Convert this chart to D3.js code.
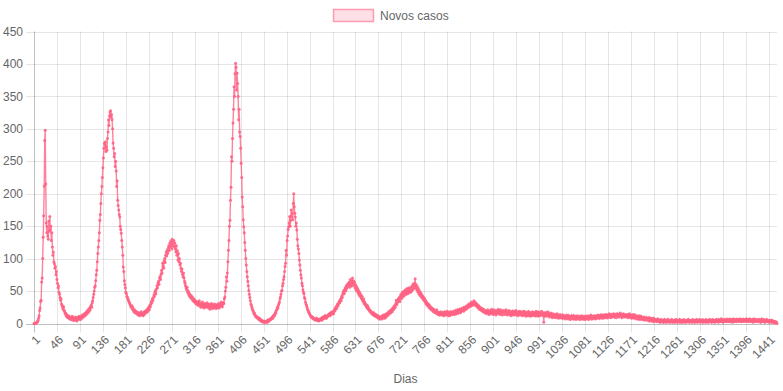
<!DOCTYPE html>
<html>
<head>
<meta charset="utf-8">
<script src="https://cdn.jsdelivr.net/npm/d3@7"></script>
<style>
  html, body { margin: 0; padding: 0; background: #fff; }
  svg { display: block; font-family: "Helvetica Neue", Helvetica, Arial, "Liberation Sans", sans-serif; }
</style>
</head>
<body>
<div id="chart"></div>
<script>
// novos casos por dia
const novosCasos = [
  0,0,0,0,1,1,2,3,5,8,12,20,24,34,36,64,70,100,133,166,212,282,298,
  215,155,140,150,135,130,158,142,165,145,150,128,140,118,105,110,95,
  92,85,88,75,80,68,62,55,58,48,45,40,36,38,30,28,25,22,26,20,
  18,15,16,12,14,10,11,9,12,8,10,7,9,6,8,11,7,5,9,6,
  8,5,10,7,4,9,6,8,11,7,10,6,9,12,8,11,14,10,13,15,
  12,16,14,18,15,20,17,22,19,24,21,26,28,25,32,35,40,45,50,56,
  58,66,75,82,95,108,118,128,140,159,168,185,200,211,225,240,255,270,278,275,
  280,265,272,267,285,295,314,305,320,326,328,318,322,314,300,278,270,257,262,242,
  250,235,211,220,190,182,175,168,164,150,145,139,128,118,105,87,80,66,60,55,
  48,46,42,40,38,36,34,32,30,28,26,25,27,22,24,20,18,21,17,19,
  16,18,15,14,17,13,16,12,15,14,18,13,16,15,12,17,14,19,16,18,
  20,17,22,19,24,25,21,28,26,30,34,32,38,36,40,44,42,48,51,46,
  53,58,55,62,65,60,70,72,68,76,82,78,93,88,85,96,100,94,105,110,
  104,113,108,116,120,112,124,118,127,122,115,130,120,126,128,118,124,115,110,120,
  105,112,98,108,95,100,90,93,85,80,84,76,72,78,70,65,62,58,55,52,
  56,48,50,45,47,42,44,40,43,38,41,36,39,34,37,33,35,31,34,30,
  33,28,32,29,35,27,31,25,30,28,33,26,29,24,31,27,30,25,28,32,
  26,29,24,30,27,22,28,25,31,26,23,29,27,24,30,26,28,23,29,27,
  25,30,28,24,31,27,29,33,28,26,30,32,31,38,41,50,56,72,65,78,
  95,113,128,150,159,190,210,257,250,285,309,330,365,350,385,401,395,360,386,370,
  350,314,330,295,288,270,247,225,195,180,160,149,140,125,113,100,90,80,72,65,
  58,51,45,40,35,30,28,25,22,20,18,15,16,13,12,10,11,10,8,9,
  7,6,8,5,6,4,5,3,4,2,3,4,2,3,2,3,4,2,5,3,
  4,6,5,7,6,8,9,10,8,12,11,14,13,17,16,20,22,25,24,28,
  31,33,38,41,45,50,51,58,62,68,72,80,88,93,113,105,128,135,145,149,
  155,165,150,159,175,165,170,160,185,200,180,170,164,150,155,144,130,120,115,108,
  98,90,82,75,70,62,58,52,48,46,40,38,33,30,28,25,22,20,18,16,
  15,13,12,10,11,10,8,9,7,8,6,7,5,6,8,5,7,6,4,6,
  5,7,6,8,5,9,7,10,8,11,9,12,10,8,10,12,11,14,13,15,
  12,16,14,17,15,18,16,15,19,22,20,24,26,23,28,30,27,31,34,32,
  36,38,35,42,40,45,48,51,46,52,55,50,58,54,60,57,62,59,64,56,
  68,60,65,58,70,62,66,59,64,55,60,52,57,50,54,47,51,44,48,42,
  45,40,38,42,36,34,38,31,33,29,30,27,25,28,23,25,21,22,19,20,
  17,18,15,16,14,17,13,15,12,14,11,13,10,12,9,11,8,10,7,9,
  8,11,7,10,13,9,12,8,14,11,10,15,12,16,13,18,15,17,20,16,
  19,22,18,24,21,26,23,28,25,31,36,29,35,33,38,36,40,34,42,45,
  38,44,48,41,46,50,43,48,52,45,49,54,46,51,47,55,49,53,48,56,
  50,58,52,61,54,58,62,69,55,60,52,57,49,54,46,51,44,48,42,46,
  40,43,38,41,36,39,34,36,31,33,29,31,27,30,25,28,23,26,22,24,
  21,23,19,22,18,20,17,19,16,21,15,18,14,17,16,13,15,18,14,16,
  13,17,15,12,16,18,14,17,13,15,19,14,16,12,17,15,13,18,16,14,
  17,15,19,16,14,18,20,17,15,19,21,18,16,20,22,19,17,21,23,20,
  22,24,19,25,21,23,26,22,27,24,28,25,30,26,29,31,27,33,28,30,
  32,28,35,30,33,29,31,27,30,25,28,24,27,22,25,21,24,20,23,19,
  22,18,21,17,20,16,19,15,18,21,16,19,14,17,20,15,18,22,16,19,
  14,18,21,16,19,13,17,20,15,18,22,16,19,14,17,21,15,18,13,17,
  20,16,19,14,18,21,15,17,13,19,16,20,14,18,15,12,17,19,14,16,
  19,13,17,15,20,14,18,16,12,17,15,19,13,16,18,14,17,12,15,19,
  13,16,18,14,11,17,15,12,16,19,13,15,11,17,14,16,12,18,15,13,
  17,14,12,16,19,13,15,11,18,14,16,12,15,17,13,19,14,16,12,2,
  15,13,17,11,16,14,12,18,13,15,10,14,12,16,11,13,9,15,12,10,
  14,11,13,9,12,15,10,13,8,12,11,14,9,12,10,8,13,11,9,12,
  10,7,11,9,13,8,10,12,7,11,9,6,10,12,8,11,9,7,12,10,
  8,11,6,9,12,8,10,7,11,9,6,10,8,12,9,7,11,8,10,6,
  9,11,7,10,8,12,9,6,10,11,8,13,9,7,11,10,8,12,9,11,
  7,10,12,8,11,9,13,10,8,12,11,9,14,10,12,8,11,13,9,12,
  10,14,11,9,13,12,10,15,11,13,9,12,14,10,13,11,15,12,10,14,
  12,9,13,15,11,14,10,13,12,16,11,14,9,13,12,15,10,14,11,13,
  12,10,14,11,13,9,12,15,10,13,11,8,12,10,14,9,11,13,8,10,
  12,9,7,11,10,8,12,6,9,11,7,10,8,6,9,7,10,5,8,7,
  9,6,8,5,7,9,4,6,8,5,7,4,6,8,3,5,7,4,6,5,
  3,5,7,4,6,3,5,2,4,6,3,5,4,2,5,3,6,4,2,5,
  3,4,6,2,5,3,4,2,5,3,6,4,2,4,3,5,2,4,6,3,
  4,2,5,3,4,6,2,4,3,5,2,4,3,6,2,5,3,4,2,5,
  3,4,6,3,5,2,4,3,5,4,2,6,3,4,5,2,4,3,6,4,
  2,5,3,4,6,3,2,5,4,3,6,2,4,5,3,4,2,6,3,5,
  4,2,5,3,6,4,3,5,2,4,6,3,5,4,2,5,3,6,4,3,
  5,2,6,4,3,5,7,3,4,6,2,5,4,3,6,4,5,3,7,4,
  5,3,6,4,7,3,5,4,6,2,5,7,4,3,6,5,3,7,4,5,
  6,3,5,7,4,6,3,5,4,7,3,6,5,4,6,3,7,5,4,6,
  3,5,7,4,6,3,5,4,6,2,5,7,4,3,6,4,5,3,6,4,
  5,3,6,4,2,5,7,4,3,5,6,4,2,5,3,4,6,3,5,4,
  2,4,5,3,4,2,5,3,2,4,3,1,2,3,1,2,0
];
const dias = novosCasos.map((v, i) => i + 1);
const yTicks = [0, 50, 100, 150, 200, 250, 300, 350, 400, 450];
const xTickStep = 45;
const serieNome = "Novos casos";
const eixoXTitulo = "Dias";

const width = 783, height = 391;
const margin = { left: 34, right: 777, top: 31.5, bottom: 323.5 };
const cor = "rgb(255, 99, 132)";
const textCor = "#666";

const svg = d3.select("#chart").append("svg")
  .attr("width", width)
  .attr("height", height);

svg.append("rect").attr("width", width).attr("height", height).attr("fill", "#fff");

const x = d3.scalePoint()
  .domain(dias)
  .range([margin.left, margin.right]);

const y = d3.scaleLinear()
  .domain([0, 450])
  .range([margin.bottom, margin.top]);

const xTickVals = dias.filter(d => (d - 1) % xTickStep === 0);

// grade horizontal
svg.append("g").selectAll("line")
  .data(yTicks)
  .enter().append("line")
  .attr("x1", margin.left - 8).attr("x2", margin.right)
  .attr("y1", d => Math.round(y(d)) + 0.5).attr("y2", d => Math.round(y(d)) + 0.5)
  .attr("stroke", d => d === 0 ? "rgba(0,0,0,0.25)" : "rgba(0,0,0,0.1)")
  .attr("stroke-width", 1);

// grade vertical
svg.append("g").selectAll("line")
  .data(xTickVals)
  .enter().append("line")
  .attr("x1", d => Math.round(x(d)) + 0.5).attr("x2", d => Math.round(x(d)) + 0.5)
  .attr("y1", margin.top).attr("y2", margin.bottom + 9)
  .attr("stroke", d => d === 1 ? "rgba(0,0,0,0.25)" : "rgba(0,0,0,0.1)")
  .attr("stroke-width", 1);

// rótulos eixo y
svg.append("g").selectAll("text")
  .data(yTicks)
  .enter().append("text")
  .attr("x", margin.left - 11)
  .attr("y", d => y(d))
  .attr("dy", "0.35em")
  .attr("text-anchor", "end")
  .attr("fill", textCor)
  .style("font-size", "12px")
  .text(d => d);

// rótulos eixo x
svg.append("g").selectAll("text")
  .data(xTickVals)
  .enter().append("text")
  .attr("transform", d => "translate(" + (x(d) + 4) + "," + (margin.bottom + 14) + ") rotate(-45)")
  .attr("dy", "0.35em")
  .attr("text-anchor", "end")
  .attr("fill", textCor)
  .style("font-size", "12px")
  .text(d => d);

// título eixo x
svg.append("text")
  .attr("x", (margin.left + margin.right) / 2)
  .attr("y", 383)
  .attr("text-anchor", "middle")
  .attr("fill", textCor)
  .style("font-size", "12px")
  .text(eixoXTitulo);

// linha
const line = d3.line()
  .x((d, i) => x(dias[i]))
  .y(d => y(d));

svg.append("path")
  .datum(novosCasos)
  .attr("d", line)
  .attr("fill", "none")
  .attr("stroke", cor)
  .attr("stroke-opacity", 0.8)
  .attr("stroke-width", 1.4);

svg.append("g").selectAll("circle")
  .data(novosCasos)
  .enter().append("circle")
  .attr("cx", (d, i) => x(dias[i]))
  .attr("cy", d => y(d))
  .attr("r", 1.5)
  .attr("fill", cor)
  .attr("fill-opacity", 0.9);

// legenda
const leg = svg.append("g");
leg.append("rect")
  .attr("x", 333.5).attr("y", 9.5)
  .attr("width", 40).attr("height", 12)
  .attr("fill", "rgba(255, 99, 132, 0.2)")
  .attr("stroke", cor)
  .attr("stroke-opacity", 0.6)
  .attr("stroke-width", 1.5);
leg.append("text")
  .attr("x", 380).attr("y", 16)
  .attr("dy", "0.35em")
  .attr("fill", textCor)
  .style("font-size", "12px")
  .text(serieNome);
</script>
</body>
</html>
